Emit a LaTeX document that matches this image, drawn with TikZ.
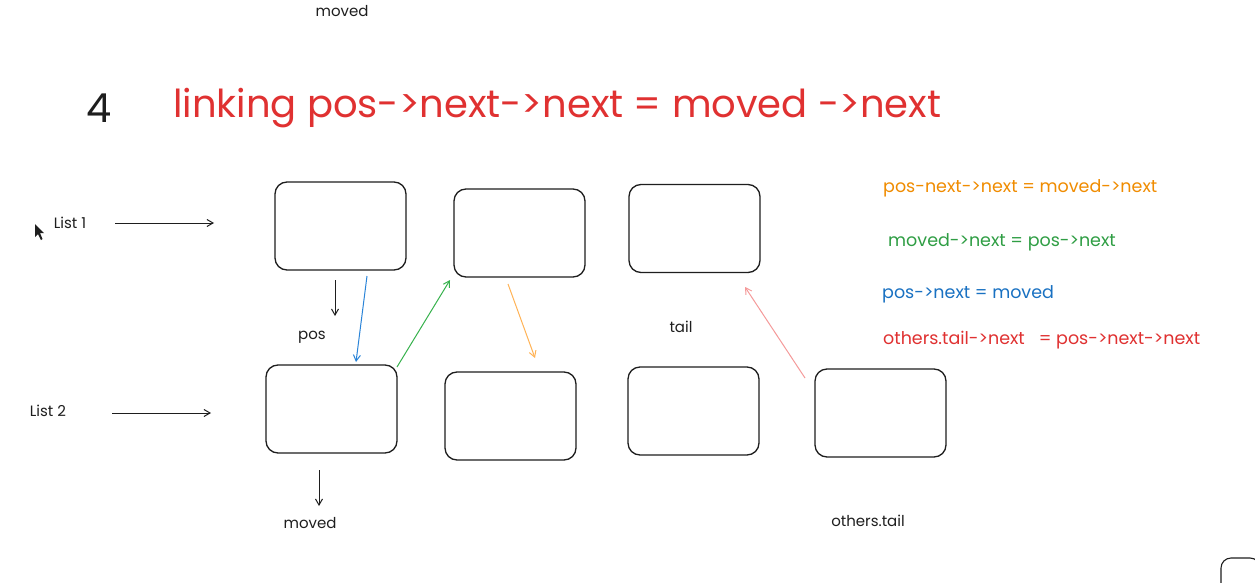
\documentclass[tikz,border=0pt]{standalone}
\usepackage{fontspec}
\setmainfont{Poppins}
\usetikzlibrary{arrows.meta}
\definecolor{exred}{HTML}{E03131}
\definecolor{exorange}{HTML}{F08C00}
\definecolor{exgreen}{HTML}{2F9E44}
\definecolor{exblue}{HTML}{1971C2}
\definecolor{arrorange}{HTML}{FFB356}
\definecolor{arrgreen}{HTML}{37B24D}
\definecolor{arrblue}{HTML}{2A84D8}
\definecolor{arrred}{HTML}{F59A9A}
\definecolor{ink}{HTML}{1E1E1E}
\tikzset{
  listbox/.style={draw=ink, line width=1.3pt, rounded corners=12pt, minimum width=131pt, minimum height=88pt, inner sep=0pt},
  conn/.style={line width=1pt, -{Straight Barb[angle=60:7pt]}},
  lbl/.style={text=ink, font=\fontsize{15}{17}\selectfont, inner sep=0pt},
  eq/.style={anchor=west, font=\fontsize{17.5}{20}\selectfont, inner sep=0pt}
}
\begin{document}
\begin{tikzpicture}[x=1pt, y=-1pt]
\useasboundingbox (0,0) rectangle (1255,583);
\fill[white] (0,0) rectangle (1255,583);

% boxes
\node[listbox] (a) at (340.5,226) {};
\node[listbox] (b) at (519.5,233) {};
\node[listbox] (c) at (694.5,228.5) {};
\node[listbox] (d) at (331.5,409) {};
\node[listbox] (e) at (510.5,416) {};
\node[listbox] (f) at (693.5,411) {};
\node[listbox] (g) at (880.5,413) {};
\draw[ink, line width=1.1pt, rounded corners=10pt] (1260,600) |- (1221,558) -- (1221,600);

% title
\node[text=ink, font=\fontsize{40}{44}\selectfont, inner sep=0pt] (num) at (99,108) {4};
\node[anchor=west, text=exred, font=\fontsize{38.5}{42}\selectfont, inner sep=0pt] (title) at (173,108) {linking pos->next->next = moved ->next};

% labels
\node[lbl] (topmoved) at (342,11) {moved};
\node[lbl] (list1) at (70,223) {List 1};
\node[lbl] (list2) at (48,411) {List 2};
\node[lbl] (pos) at (312,337) {pos};
\node[lbl] (moved) at (310,523) {moved};
\node[lbl] (tail) at (681,327) {tail};
\node[lbl] (otail) at (868,521) {others.tail};

% cursor
\fill[ink] (35,224) -- (35,237) -- (38,234) -- (41,240) -- (42.5,239) -- (40,233) -- (44,233) -- cycle;

% equations
\node[eq, text=exorange] (eq1) at (883,188) {pos-next->next = moved->next};
\node[eq, text=exgreen] (eq2) at (888,242) {moved->next = pos->next};
\node[eq, text=exblue] (eq3) at (882,294) {pos->next = moved};
\node[eq, text=exred] (eq4) at (883,340) {others.tail->next\ \ \ = pos->next->next};

% connector ends
\coordinate (l1s) at (115,223);
\coordinate (l1e) at (214,223);
\coordinate (l2s) at (112,413);
\coordinate (l2e) at (211,413);
\coordinate (ps) at (335,280);
\coordinate (pe) at (335,316);
\coordinate (ms) at (319,470);
\coordinate (me) at (319,506);
\coordinate (bls) at (367,276);
\coordinate (ble) at (356,362);
\coordinate (grs) at (397,367);
\coordinate (gre) at (450,280);
\coordinate (ors) at (508,284);
\coordinate (ore) at (535,358);
\coordinate (rds) at (805,378);
\coordinate (rde) at (745,287);

\draw[conn, ink] (l1s) -- (l1e);
\draw[conn, ink] (l2s) -- (l2e);
\draw[conn, ink] (ps) -- (pe);
\draw[conn, ink] (ms) -- (me);
\draw[conn, arrblue] (bls) -- (ble);
\draw[conn, arrgreen] (grs) -- (gre);
\draw[conn, arrorange] (ors) -- (ore);
\draw[conn, arrred] (rds) -- (rde);
\end{tikzpicture}
\end{document}
